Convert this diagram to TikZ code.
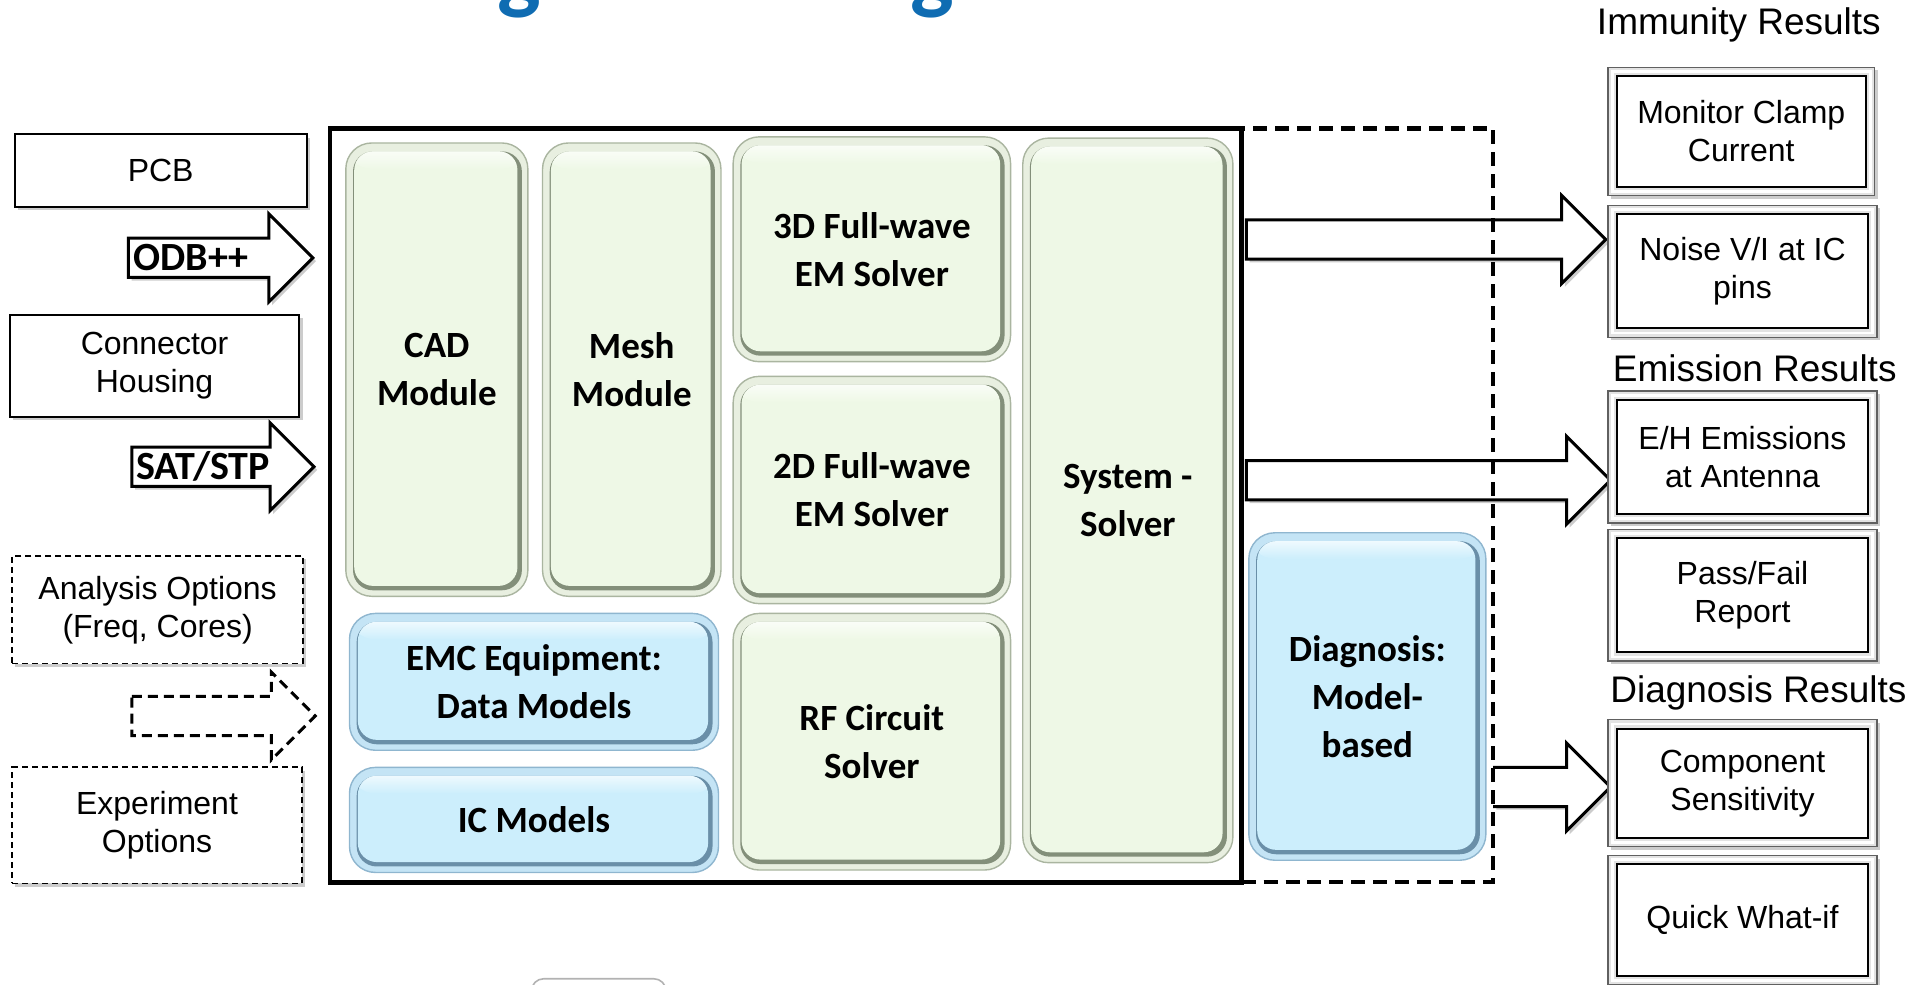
\documentclass[tikz,border=0pt]{standalone}
\usepackage{fontspec}
\setmainfont{Liberation Sans}
\newfontfamily\calfont{Carlito}
\usetikzlibrary{calc,shadows}

\definecolor{gface}{HTML}{EEF8E6}
\definecolor{gring}{HTML}{E8EFE0}
\definecolor{gline}{HTML}{AAB5A0}
\definecolor{gdark}{HTML}{838F7A}
\definecolor{bface}{HTML}{CCEEFC}
\definecolor{bring}{HTML}{C4E4F5}
\definecolor{bline}{HTML}{8FB6CF}
\definecolor{bdark}{HTML}{6A8FA8}
\definecolor{titleblue}{HTML}{0F6CB2}

\newcommand\bodyh{9.8pt}
\newcommand\headh{22pt}
\newcommand\headl{22pt}

% fat block arrow from a tail point to a tip point (same height)
\newcommand\fatarrow[3][]{%
  \draw[#1] let \p1=#2, \p2=#3 in
    (\x1,\y1+\bodyh) -- (\x2-\headl,\y1+\bodyh) -- (\x2-\headl,\y1+\headh) -- (\x2,\y1)
    -- (\x2-\headl,\y1-\headh) -- (\x2-\headl,\y1-\bodyh) -- (\x1,\y1-\bodyh) -- cycle;}
% same, but open at the tail
\newcommand\fatarrowopen[3][]{%
  \draw[#1] let \p1=#2, \p2=#3 in
    (\x1,\y1+\bodyh) -- (\x2-\headl,\y1+\bodyh) -- (\x2-\headl,\y1+\headh) -- (\x2,\y1)
    -- (\x2-\headl,\y1-\headh) -- (\x2-\headl,\y1-\bodyh) -- (\x1,\y1-\bodyh);}

% box node spanning the corners (x1,y1)-(x2,y2): \boxnode{style}{x1}{y1}{x2}{y2}{name}{text}
\newcommand\boxnode[7]{%
  \node[#1, minimum width={(#4-#2)*0.611pt}, minimum height={(#5-#3)*0.611pt}]
    (#6) at ({(#2+#4)/2},{(#3+#5)/2}) {#7};}

\tikzset{
  lab/.style={font=\calfont\bfseries\fontsize{18.5}{24}\selectfont, align=center},
  sans/.style={font=\fontsize{16}{19}\selectfont, align=center},
  headtext/.style={font=\fontsize{18.5}{22}\selectfont, inner sep=0pt},
  softshadow/.style={drop shadow={opacity=0.2, shadow xshift=1.6pt, shadow yshift=-1.6pt, fill=black}},
  bevel/.style n args={4}{%
    rounded corners=13pt, fill=#2, draw=#3, line width=0.7pt, inner sep=0pt, lab,
    path picture={
      \fill[#4, rounded corners=10pt]
        ([shift={(3.6pt,3.0pt)}]path picture bounding box.south west) rectangle
        ([shift={(-3.0pt,-4.2pt)}]path picture bounding box.north east);
      \begin{scope}
        \clip[rounded corners=9.5pt]
          ([shift={(4.2pt,5.2pt)}]path picture bounding box.south west) rectangle
          ([shift={(-5.2pt,-4.2pt)}]path picture bounding box.north east);
        \fill[#1] (path picture bounding box.south west) rectangle (path picture bounding box.north east);
        \shade[top color=white, bottom color=#1]
          ([shift={(0pt,-13pt)}]path picture bounding box.north west) rectangle
          (path picture bounding box.north east);
      \end{scope}
    }},
  gbox/.style={bevel={gface}{gring}{gline}{gdark}},
  bbox/.style={bevel={bface}{bring}{bline}{bdark}},
  plainbox/.style={draw=black, fill=white, line width=1pt, inner sep=0pt, sans, softshadow},
  dashbox/.style={draw=black, fill=white, line width=0.9pt, dash pattern=on 3pt off 2pt,
    inner sep=0pt, sans, softshadow},
  framebox/.style={fill=gray!22, draw=gray!75!black, line width=0.6pt, inner sep=0pt, sans, softshadow,
    path picture={
      \draw[white, line width=1.3pt]
        ([shift={(2.1pt,2.1pt)}]path picture bounding box.south west) rectangle
        ([shift={(-2.1pt,-2.1pt)}]path picture bounding box.north east);
      \draw[fill=white, draw=black, line width=1pt]
        ([shift={(4.4pt,4.4pt)}]path picture bounding box.south west) rectangle
        ([shift={(-4.4pt,-4.4pt)}]path picture bounding box.north east);
    }},
  zone/.style={draw=black, inner sep=0pt},
  arrowshape/.style={draw=black, line width=1.5pt, fill=white, softshadow},
  arrowdashed/.style={draw=black, line width=1.5pt, fill=white, dash pattern=on 5pt off 3pt},
  arrowlabel/.style={font=\calfont\bfseries\fontsize{20}{22}\selectfont, inner sep=0pt, anchor=west},
  titleglyph/.style={font=\calfont\bfseries\fontsize{46}{46}\selectfont, text=titleblue, anchor=base, inner sep=0pt},
}

\begin{document}
\begin{tikzpicture}[x=0.611pt, y=-0.611pt]
\useasboundingbox (0,0) rectangle (1568,806);

% cropped title glyphs, bottom widget and last result box
\begin{scope}
  \clip (0,0) rectangle (1568,806);
  \node[titleglyph] (titleg1) at (425,2) {g};
  \node[titleglyph] (titleg2) at (763,2) {g};
  \draw[gray!60, line width=0.8pt, rounded corners=6pt] (435,801) rectangle (545,840);
  \boxnode{framebox}{1316}{700}{1536}{806}{whatif}{Quick What-if}
\end{scope}

% input boxes
\boxnode{plainbox}{12}{110}{251}{169}{pcb}{PCB}
\boxnode{plainbox}{8}{258}{245}{341}{conn}{Connector\\Housing}
\boxnode{dashbox}{10}{455}{248}{543}{anaopt}{Analysis Options\\(Freq, Cores)}
\boxnode{dashbox}{10}{628}{247}{723}{expopt}{Experiment\\Options}

% input arrows
\coordinate (in1s) at (105,211);  \coordinate (in1t) at (256,211);
\coordinate (in2s) at (108,382);  \coordinate (in2t) at (257,382);
\coordinate (in3s) at (108,586);  \coordinate (in3t) at (258,586);
\fatarrow[arrowshape]{(in1s)}{(in1t)}
\fatarrow[arrowshape]{(in2s)}{(in2t)}
\fatarrow[arrowdashed]{(in3s)}{(in3t)}
\node[arrowlabel] (odb) at (109,211) {ODB++};
\node[arrowlabel] (satstp) at (111,382) {SAT/STP};

% output arrows
\coordinate (out1s) at (1020,196);  \coordinate (out1t) at (1314,196);
\coordinate (out2s) at (1020,393);  \coordinate (out2t) at (1318,393);
\coordinate (out3s) at (1222,644);  \coordinate (out3t) at (1318,644);
\fatarrow[arrowshape]{(out1s)}{(out1t)}
\fatarrow[arrowshape]{(out2s)}{(out2t)}
\fatarrowopen[arrowshape]{(out3s)}{(out3t)}

% solver frame and diagnosis zone
\boxnode{zone, line width=2.2pt, dash pattern=on 7pt off 4pt}{1016}{105}{1222}{722}{diagzone}{}
\boxnode{zone, line width=2.4pt}{270}{105}{1016}{722}{core}{}

% solver modules
\boxnode{gbox}{283}{117}{432}{488}{cad}{CAD\\Module}
\boxnode{gbox}{444}{117}{590}{488}{mesh}{Mesh\\Module}
\boxnode{gbox}{600}{112}{827}{296}{em3d}{3D Full-wave\\EM Solver}
\boxnode{gbox}{600}{308}{827}{494}{em2d}{2D Full-wave\\EM Solver}
\boxnode{gbox}{600}{502}{827}{712}{rf}{RF Circuit\\Solver}
\boxnode{gbox}{837}{113}{1009}{706}{sys}{System -\\Solver}
\boxnode{bbox}{286}{502}{588}{614}{emc}{EMC Equipment:\\Data Models}
\boxnode{bbox}{286}{628}{588}{714}{icm}{IC Models}
\boxnode{bbox}{1022}{436}{1216}{704}{diag}{Diagnosis:\\Model-\\based}

% result groups
\node[headtext] (immres) at (1423,20) {Immunity Results};
\boxnode{framebox}{1316}{55}{1534}{160}{clamp}{Monitor Clamp\\Current}
\boxnode{framebox}{1316}{168}{1536}{276}{noise}{Noise V/I at IC\\pins}
\node[headtext] (emres) at (1436,301) {Emission Results};
\boxnode{framebox}{1316}{320}{1536}{428}{ehem}{E/H Emissions\\at Antenna}
\boxnode{framebox}{1316}{433}{1536}{541}{passfail}{Pass/Fail\\Report}
\node[headtext] (diagres) at (1439,567) {Diagnosis Results};
\boxnode{framebox}{1316}{589}{1536}{693}{compsens}{Component\\Sensitivity}
\end{tikzpicture}
\end{document}
